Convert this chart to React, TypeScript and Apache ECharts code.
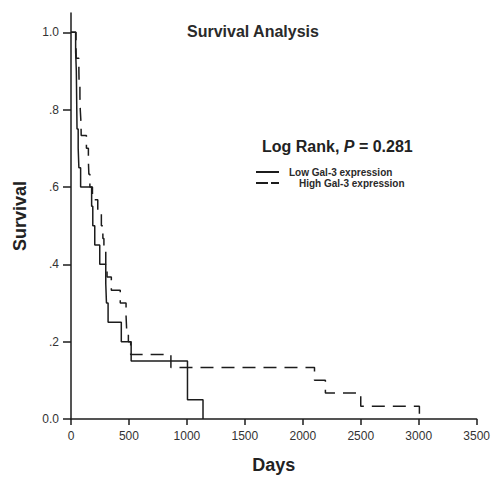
import React, { useEffect, useRef } from "react";
import * as echarts from "echarts";

// Kaplan-Meier steps
const lowDays = [0, 40, 46, 48, 50, 52, 62, 68, 83, 178, 188, 205, 248, 300, 306, 320, 434, 519, 1005, 1139];
const lowSurvival = [1.0, 0.95, 0.9, 0.85, 0.8, 0.75, 0.7, 0.65, 0.6, 0.55, 0.5, 0.45, 0.4, 0.35, 0.3, 0.25, 0.2, 0.15, 0.05, 0];

const highDays = [0, 43, 45, 68, 70, 77, 80, 86, 88, 133, 150, 154, 163, 185, 231, 262, 275, 284, 300, 311, 348, 425, 475, 480, 495, 515, 862, 2101, 2195, 2500, 3006];
const highSurvival = [1.0, 0.967, 0.933, 0.9, 0.867, 0.833, 0.8, 0.767, 0.733, 0.7, 0.667, 0.633, 0.6, 0.567, 0.533, 0.5, 0.467, 0.433, 0.4, 0.367, 0.333, 0.3, 0.267, 0.233, 0.2, 0.167, 0.133, 0.1, 0.067, 0.033, 0];

const yTicks = [0, 0.2, 0.4, 0.6, 0.8, 1.0];
const yTickLabels = ["0.0", ".2", ".4", ".6", ".8", "1.0"];

const lowName = "Low Gal-3 expression";
const highName = "High Gal-3 expression";

const FONT = "'Liberation Sans', Arial, Helvetica, sans-serif";
const INK = "#1c1c1c";

export default function App() {
  const ref = useRef<HTMLDivElement>(null);

  useEffect(() => {
    const chart = echarts.init(ref.current!, null, { renderer: "svg" });
    const lowData = lowDays.map((d, i) => [d, lowSurvival[i]]);
    const highData = highDays.map((d, i) => [d, highSurvival[i]]);

    const legendText = {
      fontFamily: FONT,
      fontSize: 10,
      lineHeight: 10,
      fontWeight: "bold",
      color: "#2a2a2a",
    };

    chart.setOption({
      animation: false,
      backgroundColor: "#ffffff",
      textStyle: { fontFamily: FONT },
      title: {
        text: "Survival Analysis",
        left: 187,
        top: 23,
        padding: 0,
        textStyle: { fontFamily: FONT, fontSize: 16, fontWeight: "bold", color: "#2a2a2a" },
      },
      grid: { left: 71, right: 12, top: 13, bottom: 52 },
      legend: [
        {
          data: [lowName],
          left: 255,
          top: 167,
          padding: 0,
          itemWidth: 23,
          itemHeight: 10,
          itemStyle: { opacity: 0 },
          textStyle: { ...legendText, padding: [0, 0, 0, 5] },
        },
        {
          data: [highName],
          left: 255,
          top: 178,
          padding: 0,
          itemWidth: 23,
          itemHeight: 10,
          itemStyle: { opacity: 0 },
          lineStyle: { type: [12, 3] },
          textStyle: { ...legendText, padding: [0, 0, 0, 15] },
        },
      ],
      xAxis: {
        type: "value",
        min: 0,
        max: 3500,
        interval: 500,
        name: "Days",
        nameLocation: "middle",
        nameGap: 37,
        nameTextStyle: { fontFamily: FONT, fontSize: 18, fontWeight: "bold", color: "#222" },
        axisLine: { show: true, onZero: false, lineStyle: { color: INK, width: 1.5 } },
        axisTick: { show: true, length: 6, lineStyle: { color: INK, width: 1.5 } },
        axisLabel: {
          margin: 11,
          fontSize: 12,
          color: "#333",
          fontFamily: FONT,
          formatter: (v: number) => String(Math.round(v)),
        },
        splitLine: { show: false },
      },
      yAxis: {
        type: "value",
        min: 0,
        max: 1.05,
        name: "Survival",
        nameLocation: "middle",
        nameGap: 42,
        nameTextStyle: { fontFamily: FONT, fontSize: 18, fontWeight: "bold", color: "#222" },
        axisLine: { show: true, lineStyle: { color: INK, width: 1.5 } },
        axisTick: { show: true, length: 8, customValues: yTicks, lineStyle: { color: INK, width: 1.5 } },
        axisLabel: {
          margin: 12,
          fontSize: 12,
          color: "#333",
          fontFamily: FONT,
          customValues: yTicks,
          formatter: (v: number) => {
            const i = yTicks.findIndex((t) => Math.abs(t - v) < 1e-6);
            return i >= 0 ? yTickLabels[i] : "";
          },
        },
        splitLine: { show: false },
      },
      graphic: [
        {
          type: "text",
          x: 262,
          y: 146,
          style: {
            text: "{a|Log Rank, }{b|P}{a| = 0.281}",
            verticalAlign: "middle",
            rich: {
              a: { fontFamily: FONT, fontSize: 16, fontWeight: "bold", fill: "#222" },
              b: { fontFamily: FONT, fontSize: 16, fontWeight: "bold", fontStyle: "italic", fill: "#222" },
            },
          },
        },
      ],
      series: [
        {
          name: lowName,
          type: "line",
          step: "end",
          data: lowData,
          symbol: "none",
          showSymbol: false,
          lineStyle: { color: INK, width: 1.5, type: "solid" },
          itemStyle: { color: INK },
        },
        {
          name: highName,
          type: "line",
          step: "end",
          data: highData,
          symbol: "none",
          showSymbol: false,
          lineStyle: { color: INK, width: 1.5, type: [13, 8] },
          itemStyle: { color: INK },
        },
      ],
    });

    return () => chart.dispose();
  }, []);

  return (
    <div
      ref={ref}
      style={{ position: "absolute", left: 0, top: 0, width: 493, height: 479 }}
    />
  );
}
